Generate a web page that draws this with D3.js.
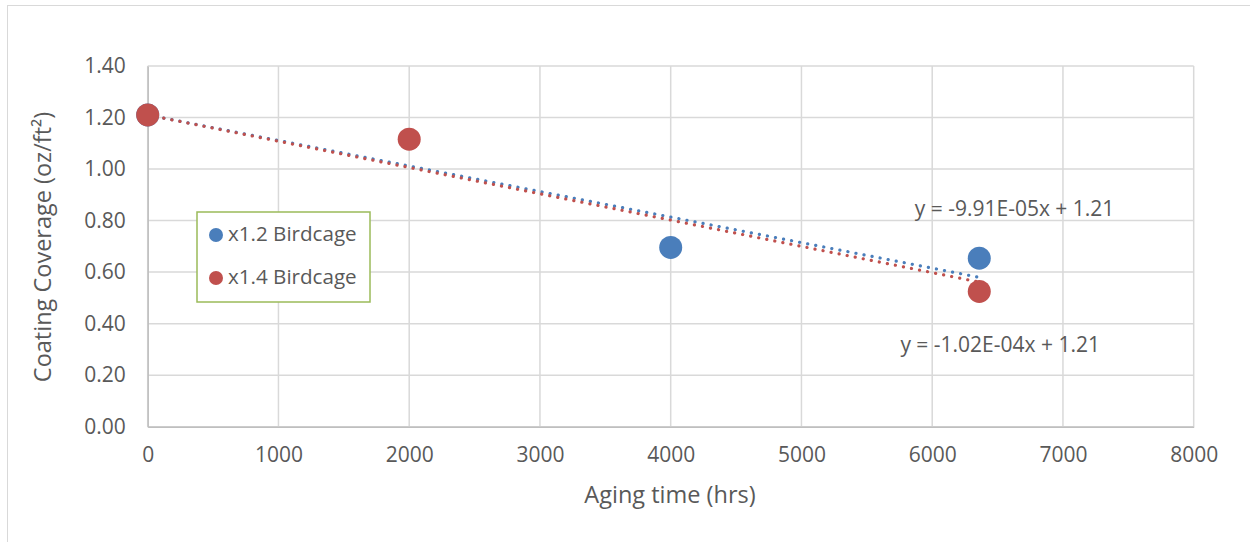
<!DOCTYPE html>
<html><head><meta charset="utf-8">
<script src="https://cdn.jsdelivr.net/npm/d3@7"></script>
<style>
html,body{margin:0;padding:0;background:#fff;}
text{font-family:"Open Sans",sans-serif;fill:#595959;}
</style></head>
<body>
<svg id="c" width="1250" height="542"></svg>
<script>
// ---- data ----
const xTicks = [0,1000,2000,3000,4000,5000,6000,7000,8000];
const yTicks = [0,0.2,0.4,0.6,0.8,1.0,1.2,1.4];
const seriesNames = ["x1.2 Birdcage","x1.4 Birdcage"];
const blueX = [0,4000,6360];
const blueY = [1.21,0.696,0.654];
const redX = [0,2000,6360];
const redY = [1.21,1.116,0.525];
const trendSlope = [-9.91e-5,-1.02e-4];
const trendIntercept = [1.21,1.21];
const trendEnd = [6360,6360];
const trendLabels = ["y = -9.91E-05x + 1.21","y = -1.02E-04x + 1.21"];
const trendLabelPos = [[6630,0.84],[6520,0.31]];
const colors = ["#4a7ebb","#c0504d"];

const svg = d3.select("#c");
// chart border (left/top visible)
svg.append("rect").attr("x",7.5).attr("y",5.5).attr("width",1260).attr("height",560)
  .attr("fill","none").attr("stroke","#d9d9d9").attr("stroke-width",1);

const x = d3.scaleLinear().domain([0,8000]).range([147.7,1193.7]);
const y = d3.scaleLinear().domain([0,1.4]).range([426.7,66]);

// gridlines
const g = svg.append("g");
g.selectAll(".vg").data(xTicks).join("line")
  .attr("x1",d=>x(d)).attr("x2",d=>x(d)).attr("y1",y(0)).attr("y2",y(1.4))
  .attr("stroke","#d9d9d9").attr("stroke-width",1.5);
g.selectAll(".hg").data(yTicks).join("line")
  .attr("x1",x(0)).attr("x2",x(8000)).attr("y1",d=>y(d)).attr("y2",d=>y(d))
  .attr("stroke","#d9d9d9").attr("stroke-width",1.5);

// axes
const xa = svg.append("g").attr("transform",`translate(0,${y(0)})`)
  .call(d3.axisBottom(x).tickValues(xTicks).tickFormat(d3.format("d")).tickSize(0).tickPadding(20));
const ya = svg.append("g").attr("transform",`translate(${x(0)},0)`)
  .call(d3.axisLeft(y).tickValues(yTicks).tickFormat(d3.format(".2f")).tickSize(0).tickPadding(22));
[xa,ya].forEach(a=>{
  a.select(".domain").attr("stroke","#bfbfbf").attr("stroke-width",1.5);
  a.selectAll("text").style("font-size","21px").attr("fill","#595959");
});

// trendlines
[0,1].forEach(i=>{
  svg.append("line")
    .attr("x1",x(0)).attr("y1",y(trendIntercept[i]))
    .attr("x2",x(trendEnd[i])).attr("y2",y(trendIntercept[i]+trendSlope[i]*trendEnd[i]))
    .attr("stroke",colors[i]).attr("stroke-width",3.2)
    .attr("stroke-linecap","round").attr("stroke-dasharray","0.1 8.1");
});

// points
const pts = [blueX.map((d,i)=>[d,blueY[i]]), redX.map((d,i)=>[d,redY[i]])];
[0,1].forEach(i=>{
  svg.append("g").selectAll("circle").data(pts[i]).join("circle")
    .attr("cx",d=>x(d[0])).attr("cy",d=>y(d[1])).attr("r",11.5)
    .attr("fill",colors[i]);
});

// trend labels
trendLabels.forEach((t,i)=>{
  svg.append("text").attr("x",x(trendLabelPos[i][0])).attr("y",y(trendLabelPos[i][1]))
    .attr("text-anchor","middle").attr("dominant-baseline","middle")
    .style("font-size","21px").text(t);
});

// legend
const lg = svg.append("g");
lg.append("rect").attr("x",197).attr("y",212).attr("width",173).attr("height",90)
  .attr("fill","#fff").attr("stroke","#9bbb59").attr("stroke-width",1.5);
seriesNames.forEach((n,i)=>{
  const cy = 235 + i*43;
  lg.append("circle").attr("cx",216).attr("cy",cy).attr("r",7).attr("fill",colors[i]);
  lg.append("text").attr("x",228).attr("y",cy).attr("dominant-baseline","middle")
    .style("font-size","20.6px").text(n);
});

// axis titles
svg.append("text").attr("x",670).attr("y",497).attr("text-anchor","middle")
  .attr("dominant-baseline","middle").style("font-size","23.5px").text("Aging time (hrs)");
svg.append("text").attr("transform","translate(45,247) rotate(-90)").attr("text-anchor","middle")
  .attr("dominant-baseline","middle").style("font-size","23.5px").text("Coating Coverage (oz/ft²)");
</script>
</body></html>
